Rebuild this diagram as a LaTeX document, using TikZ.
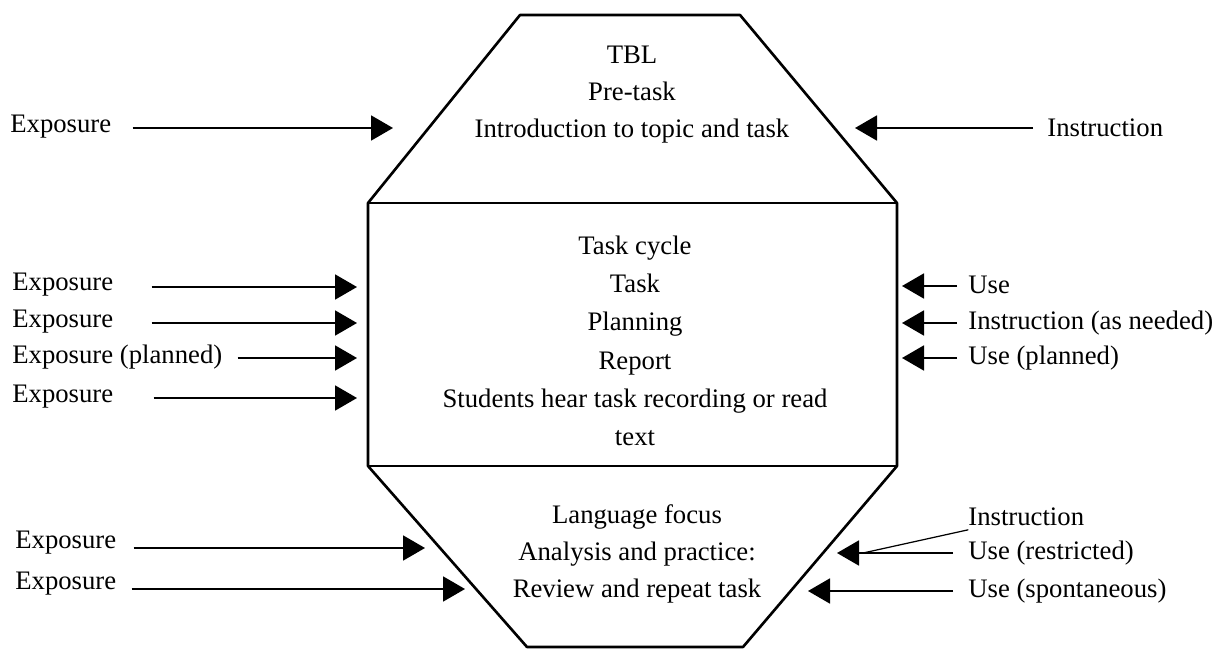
\documentclass[tikz,border=0pt]{standalone}
\usepackage{fontspec}
\setmainfont{Liberation Serif}
\usetikzlibrary{arrows.meta}

\begin{document}
\begin{tikzpicture}[x=0.2mm, y=-0.2mm,
    etiq/.style={font=\fontsize{15.2}{18}\selectfont, inner sep=0pt},
    bloque/.style={font=\fontsize{15.2}{#1}\selectfont, align=center, inner sep=0pt},
    flecha/.style={-{Triangle[length=4.4mm, width=5mm]}, line width=1.1pt},
    borde/.style={line width=1.5pt, line join=round}]
    \useasboundingbox (0,0) rectangle (1214,649);

    % Contorno
    \draw[borde] (520,15) -- (740,15) -- (897,203) -- (897,466) -- (743,647)
        -- (527,647) -- (368,466) -- (368,203) -- cycle;
    \draw[borde] (368,203) -- (897,203);
    \draw[borde] (368,466) -- (897,466);

    % Fases
    \node[bloque=21pt] (pre) at (632,95) {TBL\\Pre-task\\Introduction to topic and task};
    \node[bloque=21.8pt] (ciclo) at (635,341) {Task cycle\\Task\\Planning\\Report\\Students hear task recording or read\\text};
    \node[bloque=21pt] (foco) at (637,554) {Language focus\\Analysis and practice:\\Review and repeat task};

    % Puntas de las flechas
    \coordinate (pExpPre) at (393,128);
    \coordinate (pInsPre) at (855,128);
    \coordinate (pExpTask) at (357,287);
    \coordinate (pExpPlan) at (357,323);
    \coordinate (pExpRep) at (357,358);
    \coordinate (pExpRead) at (357,398);
    \coordinate (pUseTask) at (902,286);
    \coordinate (pInsPlan) at (902,323);
    \coordinate (pUseRep) at (902,358);
    \coordinate (pExpFoco) at (425,548);
    \coordinate (pExpRev) at (465,589);
    \coordinate (pUseFoco) at (837,553);
    \coordinate (pUseRev) at (808,591);
    \coordinate (union) at (863,553);

    % Etiquetas izquierda
    \node[etiq, anchor=west] (expPre) at (10,127) {Exposure};
    \node[etiq, anchor=west] (expTask) at (12,285) {Exposure};
    \node[etiq, anchor=west] (expPlan) at (12,322) {Exposure};
    \node[etiq, anchor=west] (expRep) at (12,357) {Exposure (planned)};
    \node[etiq, anchor=west] (expRead) at (12,397) {Exposure};
    \node[etiq, anchor=west] (expFoco) at (15,543) {Exposure};
    \node[etiq, anchor=west] (expRev) at (15,584) {Exposure};

    % Etiquetas derecha
    \node[etiq, anchor=west] (insPre) at (1047,128) {Instruction};
    \node[etiq, anchor=west] (useTask) at (968,285) {Use};
    \node[etiq, anchor=west] (insPlan) at (968,323) {Instruction (as needed)};
    \node[etiq, anchor=west] (useRep) at (968,358) {Use (planned)};
    \node[etiq, anchor=west] (insFoco) at (968,517) {Instruction};
    \node[etiq, anchor=west] (useFoco) at (968,553) {Use (restricted)};
    \node[etiq, anchor=west] (useRev) at (968,591) {Use (spontaneous)};

    % Flechas
    \draw[flecha, shorten <=4.2mm] (expPre.east |- pExpPre) -- (pExpPre);
    \draw[flecha, shorten <=2.8mm] (insPre.west |- pInsPre) -- (pInsPre);
    \draw[flecha, shorten <=7.6mm] (expTask.east |- pExpTask) -- (pExpTask);
    \draw[flecha, shorten <=7.6mm] (expPlan.east |- pExpPlan) -- (pExpPlan);
    \draw[flecha, shorten <=3mm] (expRep.east |- pExpRep) -- (pExpRep);
    \draw[flecha, shorten <=8mm] (expRead.east |- pExpRead) -- (pExpRead);
    \draw[flecha, shorten <=2.2mm] (useTask.west |- pUseTask) -- (pUseTask);
    \draw[flecha, shorten <=2.2mm] (insPlan.west |- pInsPlan) -- (pInsPlan);
    \draw[flecha, shorten <=2.2mm] (useRep.west |- pUseRep) -- (pUseRep);
    \draw[flecha, shorten <=3.4mm] (expFoco.east |- pExpFoco) -- (pExpFoco);
    \draw[flecha, shorten <=3mm] (expRev.east |- pExpRev) -- (pExpRev);
    \draw[flecha, shorten <=3mm] (useFoco.west |- pUseFoco) -- (pUseFoco);
    \draw[flecha, shorten <=3mm] (useRev.west |- pUseRev) -- (pUseRev);
    \draw[line width=0.7pt, shorten <=3.2mm] (insFoco) -- (union);
\end{tikzpicture}
\end{document}
